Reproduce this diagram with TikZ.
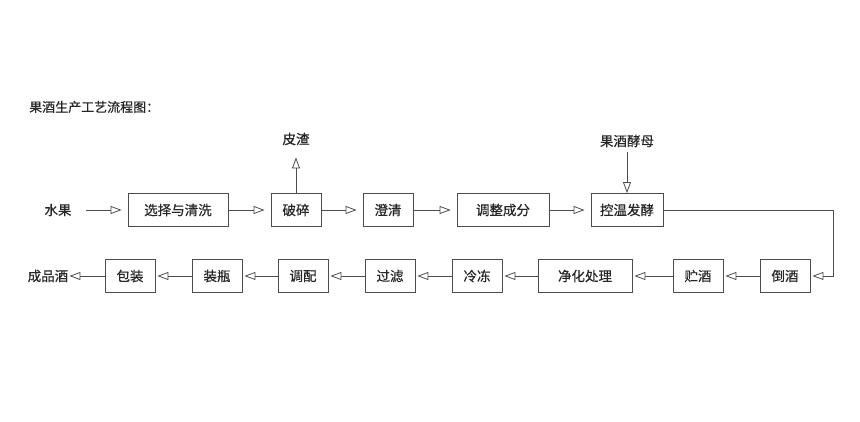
\documentclass[tikz,border=0pt]{standalone}
\usepackage{fontspec}
\newfontfamily\cjk[FakeBold=0.5]{Noto Sans CJK SC}
\usetikzlibrary{arrows.meta}
\begin{document}
\begin{tikzpicture}[x=1pt,y=-1pt,
  every node/.style={font=\cjk\fontsize{13.5}{15}\selectfont, text=black!85},
  box/.style={draw=black!70, line width=0.8pt, minimum height=33pt, inner sep=0pt, anchor=center},
  lbl/.style={inner sep=0pt},
  flow/.style={draw=black!70, line width=0.8pt, -{Triangle[open, length=11pt, width=8pt]}, shorten >=4pt}
]
\useasboundingbox (0,0) rectangle (860,421);
% title
\node[lbl, anchor=west, font=\cjk\fontsize{13}{15}\selectfont] (title) at (29,107) {果酒生产工艺流程图：};
% top row
\node[lbl] (sg) at (58,210) {水果};
\node[box, minimum width=100pt] (b1) at (178,210) {选择与清洗};
\node[box, minimum width=50pt] (b2) at (296,210) {破碎};
\node[box, minimum width=50pt] (b3) at (388,210) {澄清};
\node[box, minimum width=92pt] (b4) at (503,210) {调整成分};
\node[box, minimum width=72pt] (b5) at (627,210) {控温发酵};
\node[lbl] (pz) at (296,139) {皮渣};
\node[lbl] (jm) at (627,141) {果酒酵母};
\coordinate (turn) at (833,210);
% bottom row
\node[box, minimum width=50pt] (c1) at (785,276) {倒酒};
\node[box, minimum width=50pt] (c2) at (698,276) {贮酒};
\node[box, minimum width=94pt] (c3) at (585,276) {净化处理};
\node[box, minimum width=50pt] (c4) at (477,276) {冷冻};
\node[box, minimum width=50pt] (c5) at (390,276) {过滤};
\node[box, minimum width=50pt] (c6) at (303,276) {调配};
\node[box, minimum width=50pt] (c7) at (217,276) {装瓶};
\node[box, minimum width=50pt] (c8) at (130,276) {包装};
\node[lbl] (cp) at (48,276) {成品酒};
% connectors top
\draw[flow, shorten <=14pt, shorten >=6pt] (sg.east) -- (b1.west);
\draw[flow, shorten >=6pt] (b1.east) -- (b2.west);
\draw[flow, shorten >=6pt] (b2.east) -- (b3.west);
\draw[flow, shorten >=6pt] (b3.east) -- (b4.west);
\draw[flow, shorten >=6pt] (b4.east) -- (b5.west);
\draw[flow, shorten >=12pt] (b2.north) -- (pz.south);
\draw[flow, shorten <=5pt, shorten >=0pt] (jm.south) -- (b5.north);
\draw[flow, shorten >=2pt] (b5.east) -- (turn) |- (c1.east);
% connectors bottom
\draw[flow, shorten >=2pt] (c1.west) -- (c2.east);
\draw[flow, shorten >=2pt] (c2.west) -- (c3.east);
\draw[flow, shorten >=2pt] (c3.west) -- (c4.east);
\draw[flow, shorten >=2pt] (c4.west) -- (c5.east);
\draw[flow, shorten >=2pt] (c5.west) -- (c6.east);
\draw[flow, shorten >=2pt] (c6.west) -- (c7.east);
\draw[flow, shorten >=2pt] (c7.west) -- (c8.east);
\draw[flow, shorten >=1pt] (c8.west) -- (cp.east);
\end{tikzpicture}
\end{document}
